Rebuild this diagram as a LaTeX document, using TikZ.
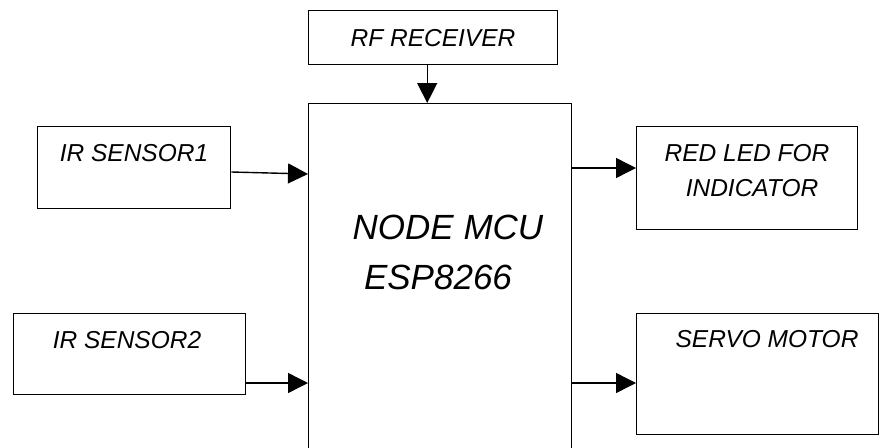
\documentclass[tikz,border=0pt]{standalone}
\usepackage{fontspec}
\setmainfont{Liberation Sans}
\usetikzlibrary{arrows.meta,calc}
\begin{document}
\begin{tikzpicture}[x=1pt,y=-1pt,
  box/.style={draw,line width=1.4pt,inner sep=0pt,anchor=north west},
  lbl/.style={font=\itshape\fontsize{24.5}{28}\selectfont,inner sep=0pt},
  big/.style={font=\itshape\fontsize{35}{40}\selectfont,inner sep=0pt},
  arr/.style={line width=1.4pt,-{Triangle[length=20pt,width=20pt]}}]
\useasboundingbox (0,0) rectangle (880,447);
\clip (0,0) rectangle (880,447);
\node[box,minimum width=249pt,minimum height=54pt] (rf) at (308,10) {};
\node[box,minimum width=263pt,minimum height=370pt] (mcu) at (308,103) {};
\node[box,minimum width=193pt,minimum height=82pt] (ir1) at (37,126) {};
\node[box,minimum width=232pt,minimum height=81pt] (ir2) at (13,313) {};
\node[box,minimum width=221pt,minimum height=103pt] (led) at (636,126) {};
\node[box,minimum width=242pt,minimum height=121pt] (servo) at (636,313) {};
\node[lbl] (trf) at (433,38) {RF RECEIVER};
\node[lbl] (tir1) at (134,153) {IR SENSOR1};
\node[lbl] (tir2) at (127,340) {IR SENSOR2};
\node[big] (tmcu1) at (448,227) {NODE MCU};
\node[big] (tmcu2) at (438,277) {ESP8266};
\node[lbl] (tled1) at (747,153) {RED LED FOR};
\node[lbl] (tled2) at (752,188) {INDICATOR};
\node[lbl] (tservo) at (767,339) {SERVO MOTOR};
\draw[arr] ([xshift=-6pt]rf.south) -- ([xshift=-6pt]rf.south |- mcu.north);
\draw[arr] ([yshift=-46pt]ir1.north east) -- ([yshift=-71pt]mcu.north west);
\draw[arr] ([yshift=-70pt]ir2.north east) -- ([yshift=-280pt]mcu.north west);
\draw[arr] ([yshift=-65pt]mcu.north east) -- ([yshift=-42pt]led.north west);
\draw[arr] ([yshift=-280pt]mcu.north east) -- ([yshift=-70pt]servo.north west);
\end{tikzpicture}
\end{document}
